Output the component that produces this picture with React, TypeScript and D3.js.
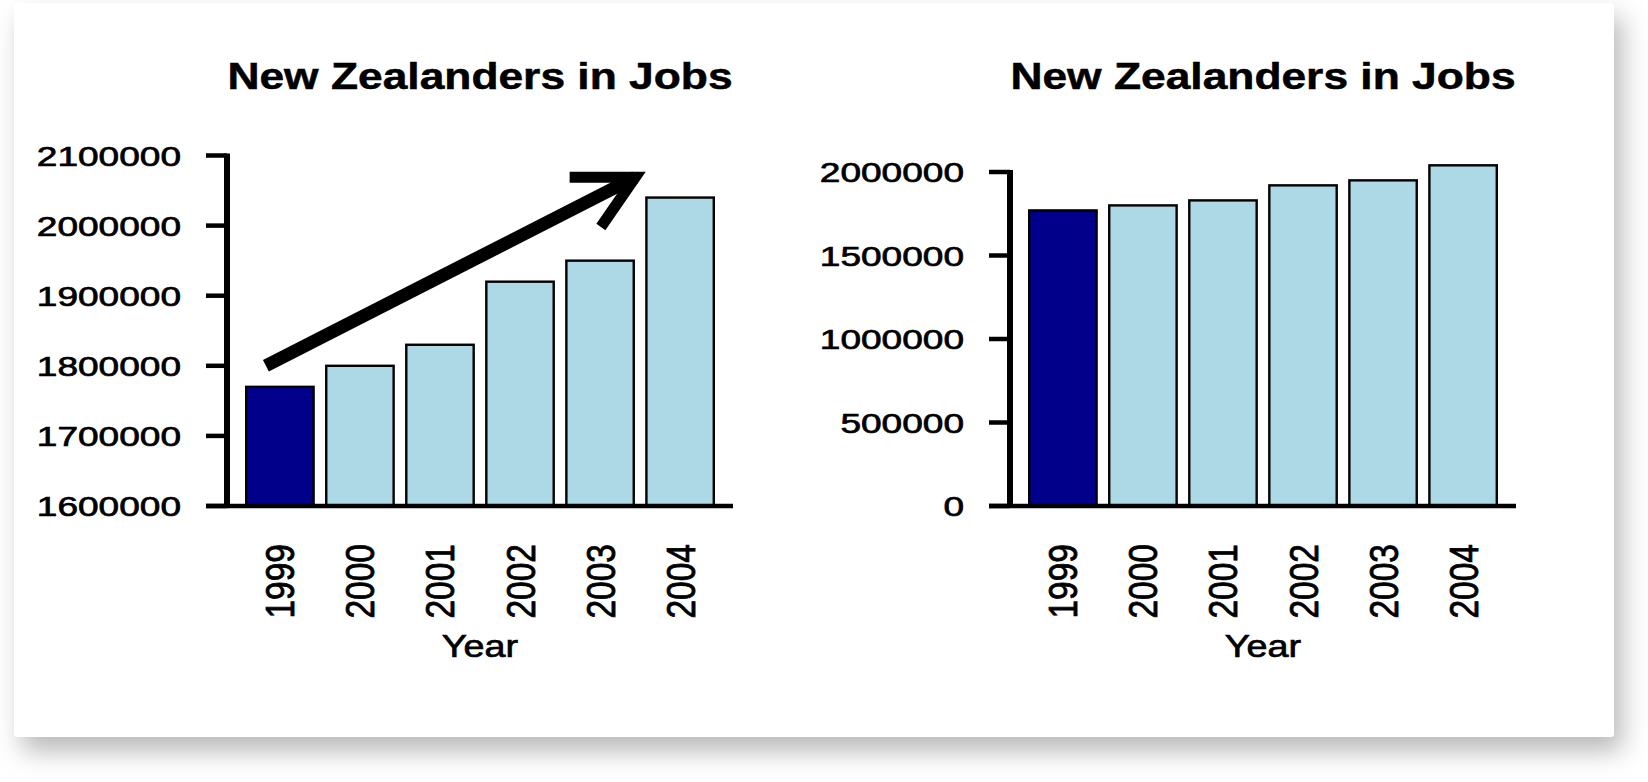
import React from "react";
import * as d3 from "d3";

// ---------- data ----------
const TITLE = "New Zealanders in Jobs";
const X_LABEL = "Year";
const years = ["1999", "2000", "2001", "2002", "2003", "2004"];
const jobs = [1770000, 1800000, 1830000, 1920000, 1950000, 2040000];
const highlightYear = "1999";
const truncatedTicks = [1600000, 1700000, 1800000, 1900000, 2000000, 2100000];
const fullTicks = [0, 500000, 1000000, 1500000, 2000000];
// arrow annotation in data units (band index position, value)
const arrowTail = { at: -0.175, value: 1800000 };
const arrowTip = { at: 4.44, value: 2069000 };
const arrowBarbs = [
  { at: 3.62, value: 2069000 },
  { at: 4.01, value: 1998000 },
];

// ---------- style ----------
const W = 1648;
const H = 782;
const FONT = "'Liberation Sans', Arial, Helvetica, sans-serif";
const DARK = "#00008B";
const LIGHT = "#ADD8E6";

type Pt = { at: number; value: number };

function BarPanel(props: {
  x0: number;
  x1: number;
  yTop: number;
  yBottom: number;
  domain: [number, number];
  ticks: number[];
  arrow?: { tail: Pt; tip: Pt; barbs: Pt[] };
}) {
  const { x0, x1, yTop, yBottom, domain, ticks, arrow } = props;
  const x = d3
    .scaleBand<string>()
    .domain(years)
    .range([x0, x1])
    .paddingInner(0.158)
    .paddingOuter(0.24);
  const y = d3.scaleLinear().domain(domain).range([yBottom, yTop]);
  const bw = x.bandwidth();
  const first = (x(years[0]) as number) + bw / 2;
  const px = (at: number) => first + at * x.step();
  const titleX = (x0 + x1) / 2;
  const tickLen = 21;
  const line = d3.line<Pt>().x((d) => px(d.at)).y((d) => y(d.value));

  return (
    <g>
      <text
        transform={`translate(${titleX},88.5) scale(1.215,1)`}
        textAnchor="middle"
        fontFamily={FONT}
        fontWeight="bold"
        fontSize={36.5}
        fill="#000"
        stroke="#000"
        strokeWidth={0.5}
      >
        {TITLE}
      </text>

      {years.map((yr, i) => (
        <rect
          key={yr}
          x={x(yr)}
          y={y(jobs[i])}
          width={bw}
          height={yBottom - y(jobs[i])}
          fill={yr === highlightYear ? DARK : LIGHT}
          stroke="#000"
          strokeWidth={2.4}
        />
      ))}

      {/* y axis */}
      <line
        x1={x0}
        x2={x0}
        y1={y(ticks[ticks.length - 1]) - 2}
        y2={yBottom + 2}
        stroke="#000"
        strokeWidth={6}
      />
      {ticks.map((t) => (
        <g key={t}>
          <line
            x1={x0 - tickLen}
            x2={x0}
            y1={y(t)}
            y2={y(t)}
            stroke="#000"
            strokeWidth={4.5}
          />
          <text
            transform={`translate(${x0 - 46},${y(t) + 10}) scale(1.3,1)`}
            textAnchor="end"
            fontFamily={FONT}
            fontSize={28.5}
            fill="#000"
            stroke="#000"
            strokeWidth={0.7}
          >
            {String(t)}
          </text>
        </g>
      ))}

      {/* x axis */}
      <line
        x1={x0 - tickLen}
        x2={x1}
        y1={yBottom}
        y2={yBottom}
        stroke="#000"
        strokeWidth={4.5}
      />
      {years.map((yr) => (
        <text
          key={yr}
          transform={`translate(${(x(yr) as number) + bw / 2 + 14.5},544) scale(1.2,1) rotate(-90)`}
          textAnchor="end"
          fontFamily={FONT}
          fontSize={33.5}
          fill="#000"
          stroke="#000"
          strokeWidth={0.7}
        >
          {yr}
        </text>
      ))}
      <text
        transform={`translate(${titleX},657) scale(1.18,1)`}
        textAnchor="middle"
        fontFamily={FONT}
        fontSize={32}
        fill="#000"
        stroke="#000"
        strokeWidth={0.7}
      >
        {X_LABEL}
      </text>

      {arrow && (
        <g>
          <path
            d={line([arrow.tail, arrow.tip]) as string}
            stroke="#000"
            strokeWidth={13}
            fill="none"
            strokeLinecap="butt"
          />
          <path
            d={line([arrow.barbs[0], arrow.tip, arrow.barbs[1]]) as string}
            stroke="#000"
            strokeWidth={11}
            fill="none"
            strokeLinejoin="miter"
            strokeMiterlimit={10}
            strokeLinecap="butt"
          />
        </g>
      )}
    </g>
  );
}

export default function App() {
  return (
    <svg
      width={W}
      height={H}
      viewBox={`0 0 ${W} ${H}`}
      style={{ position: "absolute", left: 0, top: 0, background: "#fff" }}
    >
      <defs>
        <filter id="shadow" x="-5%" y="-5%" width="112%" height="120%">
          <feDropShadow
            dx={8}
            dy={14}
            stdDeviation={13}
            floodColor="#000"
            floodOpacity={0.28}
          />
        </filter>
      </defs>
      <rect x={0} y={0} width={W} height={H} fill="#fff" />
      <rect
        x={14}
        y={3}
        width={1600}
        height={734}
        rx={4}
        fill="#fff"
        filter="url(#shadow)"
      />
      <BarPanel
        x0={227}
        x1={733}
        yTop={155.5}
        yBottom={506}
        domain={[1600000, 2100000]}
        ticks={truncatedTicks}
        arrow={{ tail: arrowTail, tip: arrowTip, barbs: arrowBarbs }}
      />
      <BarPanel
        x0={1010}
        x1={1516}
        yTop={172}
        yBottom={506}
        domain={[0, 2000000]}
        ticks={fullTicks}
      />
    </svg>
  );
}
